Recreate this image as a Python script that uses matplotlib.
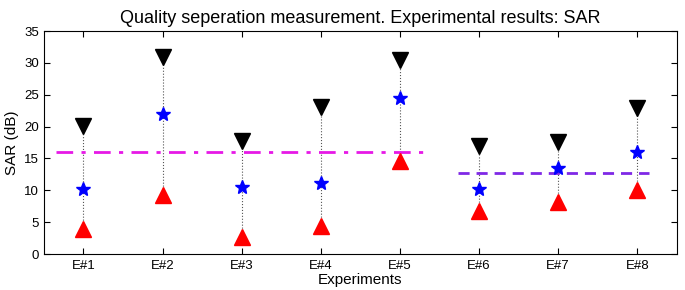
import matplotlib
matplotlib.use("Agg")
import matplotlib.pyplot as plt

plt.rcParams['font.family'] = ['Liberation Sans', 'DejaVu Sans']

experiments = ['E#1', 'E#2', 'E#3', 'E#4', 'E#5', 'E#6', 'E#7', 'E#8']
sar_max = [20.1, 31.0, 17.7, 23.0, 30.5, 17.0, 17.6, 22.9]
sar_mean = [10.2, 22.0, 10.5, 11.2, 24.5, 10.2, 13.5, 16.0]
sar_min = [3.9, 9.2, 2.6, 4.4, 14.6, 6.7, 8.1, 10.0]

# group averages drawn as horizontal lines
avg_group1 = 16.0
avg_group2 = 12.7

x = list(range(1, len(experiments) + 1))

fig = plt.figure(figsize=(6.85, 2.9), dpi=100)
ax = fig.add_axes([0.064, 0.124, 0.924, 0.769])

for xi, hi, lo in zip(x, sar_max, sar_min):
    ax.plot([xi, xi], [lo, hi], color='#555555', linestyle=':', linewidth=0.8, zorder=1)

ax.plot(x, sar_max, linestyle='none', marker='v', markersize=12, color='black', zorder=3)
ax.plot(x, sar_mean, linestyle='none', marker='*', markersize=10.5, color='blue', zorder=3)
ax.plot(x, sar_min, linestyle='none', marker='^', markersize=12, color='red', zorder=3)

ax.plot([0.65, 5.3], [avg_group1, avg_group1], color='#e619e6', linestyle=(0, (6, 3, 1.5, 3)),
        linewidth=2, zorder=2)
ax.plot([5.73, 8.15], [avg_group2, avg_group2], color='#7f28e6', linestyle=(0, (4, 2.5)),
        linewidth=2, zorder=2)

ax.set_xlim(0.5, 8.5)
ax.set_ylim(0, 35)
ax.set_xticks(x)
ax.set_xticklabels(experiments)
ax.set_yticks(range(0, 36, 5))
ax.tick_params(direction='in', length=4, labelsize=9.5, top=True, right=True)
ax.tick_params(axis='x', pad=4)

ax.set_xlabel('Experiments', fontsize=11, labelpad=1)
ax.set_ylabel('SAR (dB)', fontsize=11, labelpad=4)
ax.set_title('Quality seperation measurement. Experimental results: SAR', fontsize=13, pad=6)

fig.savefig('out.png', dpi=100)
plt.close(fig)
